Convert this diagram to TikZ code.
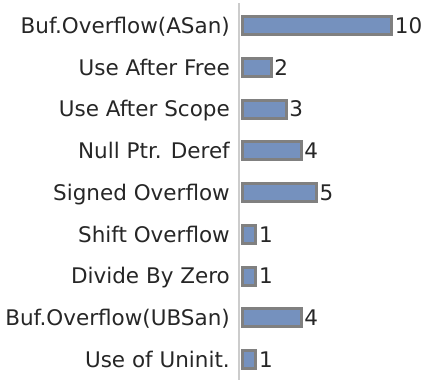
\documentclass[tikz,border=0pt]{standalone}
\usepackage{fontspec}
\setmainfont{DejaVu Sans}
\definecolor{barfill}{RGB}{117,145,190}
\definecolor{barline}{RGB}{128,128,128}
\definecolor{axisgray}{RGB}{204,204,204}
\definecolor{txt}{RGB}{38,38,38}
\tikzset{
  catlabel/.style={anchor=base east, inner sep=0pt, text=txt, font=\fontsize{21.5}{25}\selectfont},
  vallabel/.style={anchor=west, inner sep=0pt, text=txt, font=\fontsize{21.5}{25}\selectfont},
  bar/.style={rectangle, draw=barline, fill=barfill, line width=3pt, minimum height=18pt, inner sep=0pt, anchor=west},
}
\begin{document}
\begin{tikzpicture}[x=1pt,y=-1pt]
\useasboundingbox (0,0) rectangle (422,380);
% value axis
\coordinate (axtop) at (239,3);
\coordinate (axbot) at (239,380);
\draw[axisgray, line width=1.5pt] (axtop) -- (axbot);
% categories and their counts
\foreach \i/\lab/\v in {0/Buf.Overflow(ASan)/10, 1/Use After Free/2, 2/Use After Scope/3,
  3/Null Ptr. Deref/4, 4/Signed Overflow/5, 5/Shift Overflow/1, 6/Divide By Zero/1,
  7/Buf.Overflow(UBSan)/4, 8/Use of Uninit./1}{
  \pgfmathsetmacro{\yc}{25.5+41.75*\i}
  \pgfmathsetmacro{\w}{15.08*\v-1.1}
  \node[catlabel] (cat\i) at (230,\yc+7.8) {\lab};
  \node[bar, minimum width=\w pt] (bar\i) at (240.5,\yc) {};
  \node[vallabel] (val\i) at ([xshift=1.5pt]bar\i.east) {\v};
}
\end{tikzpicture}
\end{document}
